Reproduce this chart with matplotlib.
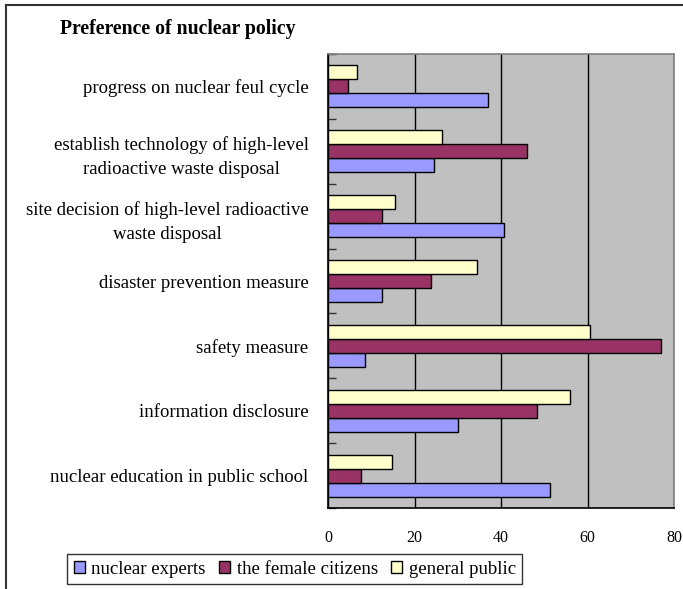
import numpy as np
import matplotlib.pyplot as plt

# policy items, top to bottom
categories = [
    "progress on nuclear feul cycle",
    "establish technology of high-level\nradioactive waste disposal",
    "site decision of high-level radioactive\nwaste disposal",
    "disaster prevention measure",
    "safety measure",
    "information disclosure",
    "nuclear education in public school",
]
experts = [37.1, 24.5, 40.7, 12.4, 8.6, 30.0, 51.3]
female = [4.7, 45.9, 12.6, 23.9, 76.9, 48.3, 7.7]
public = [6.8, 26.4, 15.4, 34.5, 60.6, 55.9, 14.8]
xticks = [0, 20, 40, 60, 80]

plt.rcParams['font.family'] = ['Liberation Serif', 'DejaVu Serif']

W, H = 683, 589
fig = plt.figure(figsize=(W / 100, H / 100), dpi=100)
# plot area in pixels: left 328, right 674, top 54, bottom 508
ax = fig.add_axes([328 / W, 1 - 508 / H, (674 - 328) / W, (508 - 54) / H])
ax.set_facecolor('#C0C0C0')

n = len(categories)
y = np.arange(n)[::-1].astype(float)
h = 0.216
series = [
    (experts, '#9999FF', 'nuclear experts', -h),
    (female, '#993366', 'the female citizens', 0.0),
    (public, '#FFFFCC', 'general public', h),
]
handles = []
for vals, col, lab, off in series:
    b = ax.barh(y + off, vals, height=h, color=col, edgecolor='black',
                linewidth=1.0, label=lab, zorder=3)
    handles.append(b)

ax.set_xlim(0, 80)
ax.set_ylim(-0.5, n - 0.5)
ax.set_xticks(xticks)
ax.set_xticklabels([str(t) for t in xticks], fontsize=11.5)
ax.tick_params(axis='x', length=0, pad=16)
ax.grid(axis='x', color='black', linewidth=1.0, zorder=1)

ax.set_yticks(y)
ax.set_yticklabels(categories, fontsize=13.5, multialignment='center',
                   linespacing=1.55)
ax.tick_params(axis='y', length=0, pad=14)
ax.set_yticks(np.arange(n + 1) - 0.5, minor=True)
ax.tick_params(axis='y', which='minor', direction='in', length=6,
               width=1.0, color='#333333')

for s in ['top', 'right']:
    ax.spines[s].set_color('#808080')
    ax.spines[s].set_linewidth(1.2)
for s in ['left', 'bottom']:
    ax.spines[s].set_color('black')
    ax.spines[s].set_linewidth(1.2)

fig.text(60 / W, 1 - 29 / H, "Preference of nuclear policy", fontsize=14.2,
         fontweight='bold', va='center', ha='left')

leg = fig.legend(handles=handles, loc='center left',
                 bbox_to_anchor=(67 / W, 1 - 569 / H), ncol=3, fontsize=13.5,
                 frameon=True, fancybox=False, edgecolor='black',
                 handlelength=0.6, handleheight=0.6, handletextpad=0.35,
                 columnspacing=0.7, borderpad=0.35, borderaxespad=0)
leg.get_frame().set_linewidth(1.0)

# outer chart border along the left and top edges
fig.add_artist(plt.Line2D([6 / W, 6 / W], [0, 1 - 5 / H], color='#333333',
                          linewidth=1.5, transform=fig.transFigure))
fig.add_artist(plt.Line2D([6 / W, 1], [1 - 5 / H, 1 - 5 / H], color='#333333',
                          linewidth=1.5, transform=fig.transFigure))

fig.savefig('out.png', dpi=100)
